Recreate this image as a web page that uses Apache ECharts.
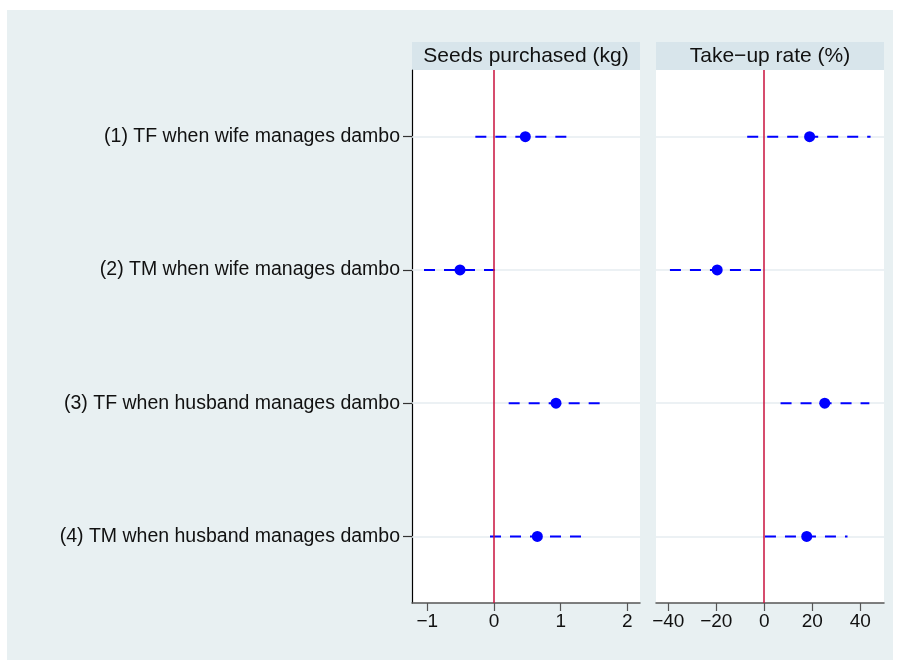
<!DOCTYPE html>
<html>
<head>
<meta charset="utf-8">
<script src="https://cdn.jsdelivr.net/npm/echarts@6/dist/echarts.min.js"></script>
<style>html,body{margin:0;padding:0;background:#fff;}#c{width:902px;height:662px;}</style>
</head>
<body>
<div id="c"></div>
<script>
const categories = [
  '(1) TF when wife manages dambo',
  '(2) TM when wife manages dambo',
  '(3) TF when husband manages dambo',
  '(4) TM when husband manages dambo'
];
const rows = [1, 2, 3, 4];
const panelTitles = ['Seeds purchased (kg)', 'Take\u2212up rate (%)'];
const seedsEst = [0.47, -0.51, 0.93, 0.65];
const seedsLo = [-0.28, -1.05, 0.22, -0.06];
const seedsHi = [1.22, 0.01, 1.60, 1.32];
const takeEst = [18.9, -19.6, 25.2, 17.7];
const takeLo = [-7.1, -39.3, 6.8, 0.3];
const takeHi = [44.3, -0.4, 43.8, 34.7];
const seedsTicks = [-1, 0, 1, 2];
const takeTicks = [-40, -20, 0, 20, 40];

const FONT = 'Liberation Sans, Arial, Helvetica, sans-serif';
const BLUE = '#0000ff';
const RED = '#c8103c';
const GRIDC = '#e6edf0';
const minus = v => String(v).replace('-', '\u2212');

const panels = [
  {left: 412, min: -1.23, max: 2.19, ticks: seedsTicks, est: seedsEst, lo: seedsLo, hi: seedsHi, showY: true},
  {left: 656, min: -45.1, max: 49.9, ticks: takeTicks, est: takeEst, lo: takeLo, hi: takeHi, showY: false}
];
const PW = 228, TOP = 70, PH = 533;

const grid = [], xAxis = [], yAxis = [], series = [], graphic = [];
graphic.push({type: 'rect', z: -10, shape: {x: 7, y: 10, width: 886, height: 650}, style: {fill: '#e8f0f2'}});

panels.forEach((p, i) => {
  grid.push({left: p.left, top: TOP, width: PW, height: PH, backgroundColor: '#ffffff', show: true, borderWidth: 0});
  graphic.push({type: 'rect', shape: {x: p.left, y: 42, width: PW, height: 28}, style: {fill: '#d8e5eb'}});
  graphic.push({type: 'text', x: p.left + PW / 2, y: 56, style: {text: panelTitles[i], font: '21px ' + FONT, fill: '#111', align: 'center', verticalAlign: 'middle'}});
  xAxis.push({
    type: 'value', gridIndex: i, min: p.min, max: p.max,
    axisLine: {show: true, onZero: false, lineStyle: {color: '#555', width: 1.5}},
    axisTick: {show: true, length: 8, customValues: p.ticks, lineStyle: {color: '#555', width: 1.2}},
    axisLabel: {customValues: p.ticks, formatter: minus, margin: 9, fontSize: 19, fontFamily: FONT, color: '#111'},
    splitLine: {show: false}
  });
  yAxis.push({
    type: 'value', gridIndex: i, min: 0.5, max: 4.5, inverse: true,
    axisLine: {show: p.showY, onZero: false, lineStyle: {color: '#000', width: 1.2}},
    axisTick: {show: p.showY, length: 9, customValues: rows, lineStyle: {color: '#333', width: 1.2}},
    axisLabel: {show: p.showY, customValues: rows, formatter: v => categories[Math.round(v) - 1], margin: 12, fontSize: 19.5, fontFamily: FONT, color: '#111'},
    splitLine: {show: false}
  });
  series.push({
    type: 'line', xAxisIndex: i, yAxisIndex: i, data: [], z: 1, silent: true,
    markLine: {z: 1, silent: true, symbol: 'none', animation: false, label: {show: false},
      lineStyle: {color: GRIDC, width: 1.5, type: 'solid'},
      data: rows.map(r => ({yAxis: r}))}
  });
  rows.forEach((r, k) => {
    series.push({
      type: 'line', xAxisIndex: i, yAxisIndex: i, z: 3, silent: true,
      showSymbol: false, symbol: 'none',
      lineStyle: {color: BLUE, width: 2, type: [11, 9], opacity: 1},
      data: [[p.lo[k], r], [p.hi[k], r]]
    });
  });
  series.push({
    type: 'line', xAxisIndex: i, yAxisIndex: i, data: [], z: 2, silent: true,
    markLine: {z: 4, silent: true, symbol: 'none', animation: false, label: {show: false},
      lineStyle: {color: RED, width: 1.5, type: 'solid'},
      data: [{xAxis: 0}]}
  });
  series.push({
    type: 'scatter', xAxisIndex: i, yAxisIndex: i, z: 5, silent: true,
    symbol: 'circle', symbolSize: 11, itemStyle: {color: BLUE, opacity: 1},
    data: rows.map((r, k) => [p.est[k], r])
  });
});

const chart = echarts.init(document.getElementById('c'), null, {renderer: 'canvas'});
chart.setOption({animation: false, backgroundColor: '#ffffff', grid, xAxis, yAxis, series, graphic});
</script>
</body>
</html>
